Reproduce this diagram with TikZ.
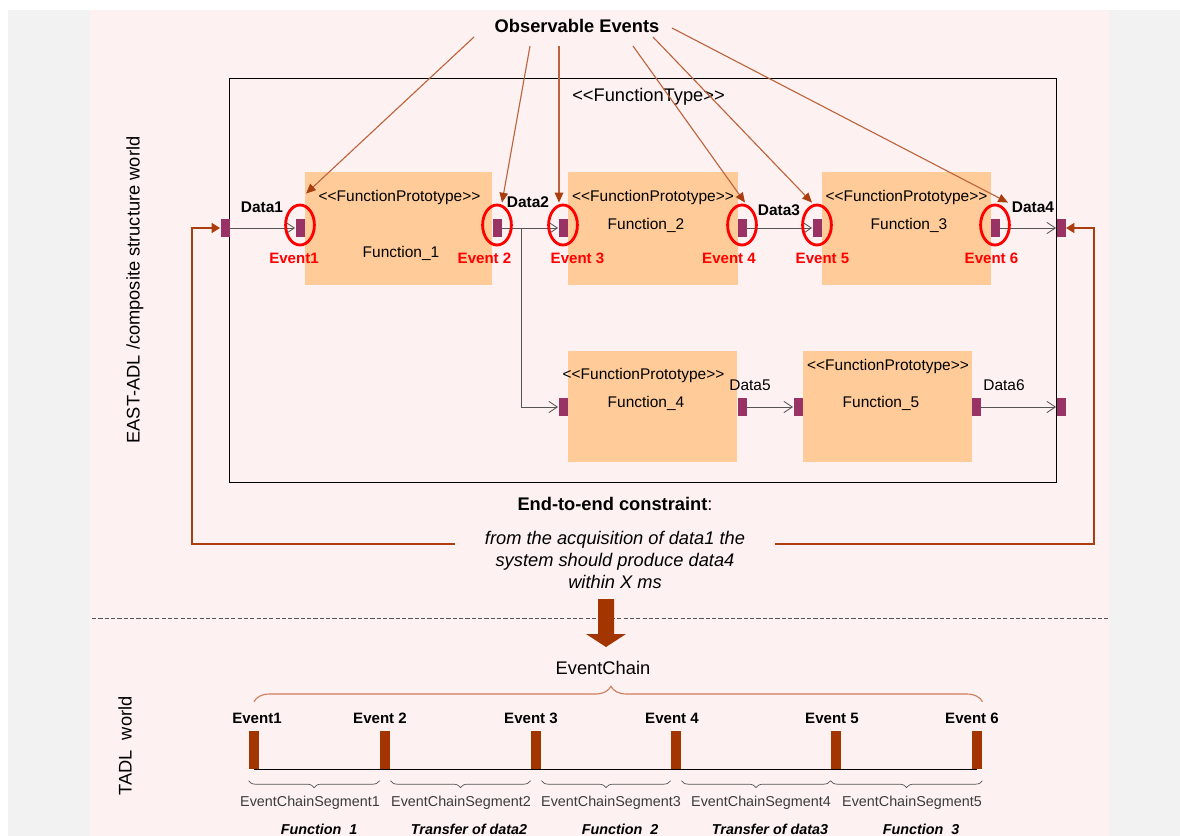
\documentclass[tikz,border=0pt]{standalone}
\usepackage{fontspec}
\setmainfont{Liberation Sans}
\usepackage{tikz}
\usetikzlibrary{arrows.meta,shapes.geometric}
\usetikzlibrary{decorations.pathreplacing}
\definecolor{bg_gray}{RGB}{242,242,242}
\definecolor{bg_pink}{RGB}{253,241,241}
\definecolor{node_orange}{RGB}{255,204,153}
\definecolor{port_purple}{RGB}{153,51,102}
\definecolor{edge_gray}{RGB}{85,85,85}
\definecolor{edge_brown}{RGB}{170,62,14}
\definecolor{obs_brown}{RGB}{190,100,60}
\definecolor{bar_brown}{RGB}{163,54,0}
\definecolor{brace_brown}{RGB}{208,125,90}
\definecolor{seg_gray}{RGB}{60,60,60}
\newcommand{\fbig}{\fontsize{13}{15.6}\selectfont}
\newcommand{\fmid}{\fontsize{11}{13}\selectfont}
\newcommand{\fev}{\fontsize{10.7}{12.5}\selectfont}
\newcommand{\fseg}{\fontsize{10.2}{12}\selectfont}
\newcommand{\stereo}[1]{<\kern0pt<#1>\kern0pt>}

\begin{document}
\begin{tikzpicture}[x=0.025cm,y=0.025cm,line width=0.6pt]
    \tikzstyle{proto}=[fill=node_orange, draw=none, inner sep=0, minimum height=2.825cm]
    \tikzstyle{port}=[fill=port_purple, draw=none, inner sep=0, minimum width=0.225cm, minimum height=0.45cm]
    \tikzstyle{evring}=[draw=red, ellipse, line width=2pt, inner sep=0, minimum width=0.72cm, minimum height=1.0cm]
    \tikzstyle{flow}=[draw=edge_gray, -{Straight Barb[length=6pt,width=8pt]}]
    \tikzstyle{obs}=[draw=obs_brown, line width=0.8pt, -{Triangle[length=7pt,width=6pt,color=edge_brown]}]
    \tikzstyle{fback}=[draw=edge_brown, line width=2pt, -{Triangle[length=6pt,width=7pt]}]
    \tikzstyle{txt}=[inner sep=0, font=\fmid]
    \tikzstyle{datab}=[style=txt, font=\fmid\bfseries]
    \tikzstyle{evred}=[inner sep=0, text=red, font=\fev\bfseries]
    \tikzstyle{evblk}=[inner sep=0, font=\fev\bfseries]
    \tikzstyle{bar}=[fill=bar_brown, draw=none, inner sep=0, minimum width=0.25cm, minimum height=0.95cm]
    \tikzstyle{segbrace}=[draw=edge_gray, line width=0.5pt, decorate, decoration={brace, mirror, amplitude=5pt, raise=8pt}]
    \tikzstyle{segtxt}=[inner sep=0, text=seg_gray, font=\fseg]
    \tikzstyle{segfn}=[inner sep=0, font=\fseg\bfseries\itshape]

    \useasboundingbox (0,0) rectangle (1180,-836);
    % backgrounds
    \fill[bg_gray] (8,-10) rectangle (1180,-836);
    \fill[bg_pink] (90,-10) rectangle (1109,-836);
    \draw[edge_gray, dash pattern=on 3pt off 1.5pt] (92,-618) -- (1108,-618);

    \node[inner sep=0, rotate=90, font=\fbig] (east) at (135,-290) {EAST-ADL /composite structure world};
    \node[inner sep=0, rotate=90, font=\fbig] (tadl) at (125,-746) {TADL\ \ world};

    % function type and prototypes
    \node[draw=black, minimum width=20.65cm, minimum height=10.1cm] (ftype) at (643,-280) {};
    \node[txt, font=\fbig] (ftl) at (648.5,-97) {\stereo{FunctionType}};

    \node[proto, minimum width=4.675cm] (f1) at (398.5,-228.5) {};
    \node[proto, minimum width=4.25cm]  (f2) at (653,-228.5) {};
    \node[proto, minimum width=4.225cm] (f3) at (906.5,-228.5) {};
    \node[proto, minimum width=4.225cm, minimum height=2.775cm] (f4) at (652.5,-406.5) {};
    \node[proto, minimum width=4.225cm, minimum height=2.775cm] (f5) at (887.5,-406.5) {};

    \node[txt] (s1) at (399.5,-197) {\stereo{FunctionPrototype}};
    \node[txt] (s2) at (653,-197)   {\stereo{FunctionPrototype}};
    \node[txt] (s3) at (906.5,-197) {\stereo{FunctionPrototype}};
    \node[txt] (s4) at (643.5,-375) {\stereo{FunctionPrototype}};
    \node[txt] (s5) at (888,-366)   {\stereo{FunctionPrototype}};
    \node[txt] (n1) at (401,-253) {Function\_1};
    \node[txt] (n2) at (646,-225) {Function\_2};
    \node[txt] (n3) at (909,-225) {Function\_3};
    \node[txt] (n4) at (646,-403) {Function\_4};
    \node[txt] (n5) at (881,-403) {Function\_5};

    % ports
    \node[port] (pin)   at (225,-228)  {};
    \node[port] (p1i)   at (300,-228)  {};
    \node[port] (p1o)   at (497,-228)  {};
    \node[port] (p2i)   at (563,-228)  {};
    \node[port] (p2o)   at (742,-228)  {};
    \node[port] (p3i)   at (817,-228)  {};
    \node[port] (p3o)   at (995,-228)  {};
    \node[port] (pout)  at (1061,-228) {};
    \node[port] (p4i)   at (563,-407)  {};
    \node[port] (p4o)   at (742,-407)  {};
    \node[port] (p5i)   at (798,-407)  {};
    \node[port] (p5o)   at (976,-407)  {};
    \node[port] (pout2) at (1061,-407) {};
    \coordinate (br) at (521,-228);

    \path
     (pin) edge[flow] (p1i)
     (p1o) edge[flow] (p2i)
     (p2o) edge[flow] (p3i)
     (p3o) edge[flow] (pout)
     (p4o) edge[flow] (p5i)
     (p5o) edge[flow] (pout2)
     ;
    \draw[flow] (br) |- (p4i);

    \node[datab] (d1) at (262,-207)  {Data1};
    \node[datab] (d2) at (528,-202)  {Data2};
    \node[datab] (d3) at (779,-210)  {Data3};
    \node[datab] (d4) at (1033,-207) {Data4};
    \node[txt]   (d5) at (750,-385)  {Data5};
    \node[txt]   (d6) at (1004,-385) {Data6};

    % observed events
    \node[evring] (ev1) at (300,-225) {};
    \node[evring] (ev2) at (497,-225) {};
    \node[evring] (ev3) at (563,-225) {};
    \node[evring] (ev4) at (742,-225) {};
    \node[evring] (ev5) at (817,-225) {};
    \node[evring] (ev6) at (995,-225) {};
    \node[evred] (e1) at (294,-258)   {Event1};
    \node[evred] (e2) at (484.5,-258) {Event 2};
    \node[evred] (e3) at (577.5,-258) {Event 3};
    \node[evred] (e4) at (729,-258)   {Event 4};
    \node[evred] (e5) at (822.5,-258) {Event 5};
    \node[evred] (e6) at (991.5,-258) {Event 6};

    \node[inner sep=0, font=\fbig\bfseries] (obsev) at (577,-26) {Observable Events};
    \coordinate (o1) at (474,-37);
    \coordinate (o2) at (530,-46);
    \coordinate (o3) at (559,-46);
    \coordinate (o4) at (633,-46);
    \coordinate (o5) at (653,-37);
    \coordinate (o6) at (672,-28);
    \path
     (o1) edge[obs] ([shift={(6,10)}]ev1.north)
     (o2) edge[obs] ([shift={(5,1)}]ev2.north)
     (o3) edge[obs] ([shift={(-4,1)}]ev3.north)
     (o4) edge[obs] ([shift={(3,1)}]ev4.north)
     (o5) edge[obs] ([shift={(-5,1)}]ev5.north)
     (o6) edge[obs] ([shift={(13,1)}]ev6.north)
     ;

    % end-to-end constraint
    \node[inner sep=0, font=\fbig] (cons) at (615,-504) {\textbf{End-to-end constraint}:};
    \node[inner sep=0, font=\fbig\itshape, align=center] (req) at (615,-560)
        {from the acquisition of data1 the\\system should produce data4\\within X ms};
    \coordinate (fl)  at (455,-544);
    \coordinate (flc) at (192,-544);
    \coordinate (fr)  at (775,-544);
    \coordinate (frc) at (1094,-544);
    \draw[fback] (fl) -- (flc) |- (pin);
    \draw[fback] (fr) -- (frc) |- (pout);

    \fill[bar_brown] (598,-599) -- (614,-599) -- (614,-634) -- (626,-634) -- (606,-647)
        -- (586,-634) -- (598,-634) -- cycle;

    % TADL event chain
    \node[inner sep=0, font=\fbig] (chain) at (603,-668) {EventChain};
    \node[bar] (b1) at (254,-750) {};
    \node[bar] (b2) at (385,-750) {};
    \node[bar] (b3) at (536,-750) {};
    \node[bar] (b4) at (676,-750) {};
    \node[bar] (b5) at (836,-750) {};
    \node[bar] (b6) at (977,-750) {};
    \draw[black] (b1.south) -- (b6.south);
    \draw[draw=brace_brown, line width=0.8pt, decorate,
        decoration={brace, amplitude=11pt, raise=20.5pt, aspect=0.49}] (b1.north) -- (b6.north east);

    \node[evblk] (t1) at (257,-718) {Event1};
    \node[evblk] (t2) at (380,-718) {Event 2};
    \node[evblk] (t3) at (531,-718) {Event 3};
    \node[evblk] (t4) at (672,-718) {Event 4};
    \node[evblk] (t5) at (832,-718) {Event 5};
    \node[evblk] (t6) at (972,-718) {Event 6};

    \draw[segbrace] (b1.south west) -- (b2.south west);
    \draw[segbrace] (b2.south east) -- (b3.south west);
    \draw[segbrace] (b3.south east) -- (b4.south west);
    \draw[segbrace] (b4.south east) -- (b5.south west);
    \draw[segbrace] (b5.south west) -- (b6.south east);

    \node[segtxt] (sg1) at (310,-803) {EventChainSegment1};
    \node[segtxt] (sg2) at (461,-803) {EventChainSegment2};
    \node[segtxt] (sg3) at (611,-803) {EventChainSegment3};
    \node[segtxt] (sg4) at (761,-803) {EventChainSegment4};
    \node[segtxt] (sg5) at (912,-803) {EventChainSegment5};
    \node[segfn] (sf1) at (319,-829) {Function\ \ 1};
    \node[segfn] (sf2) at (469,-829) {Transfer of data2};
    \node[segfn] (sf3) at (620,-829) {Function\ \ 2};
    \node[segfn] (sf4) at (770,-829) {Transfer of data3};
    \node[segfn] (sf5) at (921,-829) {Function\ \ 3};
\end{tikzpicture}
\end{document}
